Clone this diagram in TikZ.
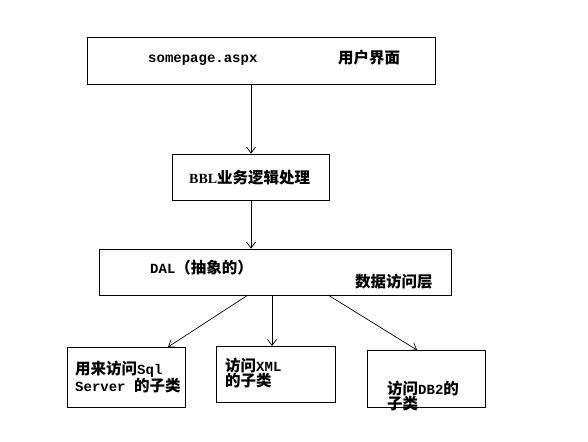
\documentclass[tikz,border=0pt]{standalone}
\usepackage{fontspec}
\setmainfont{Liberation Mono}
\newfontfamily\zhfont{Noto Sans CJK SC}
\newfontfamily\serfont{Liberation Serif}
\newcommand{\zh}[1]{{\zhfont\bfseries\fontsize{15.5}{16}\selectfont #1}}
\usetikzlibrary{arrows.meta}
\begin{document}
\begin{tikzpicture}[x=1pt,y=-1pt,
  box/.style={draw,line width=0.8pt,inner sep=0pt},
  lbl/.style={anchor=west,inner sep=0pt,font=\fontsize{14}{15}\selectfont\bfseries},
  arr/.style={line width=0.7pt,-{Straight Barb[length=6pt,width=9pt]}}]
\useasboundingbox (0,0) rectangle (588,441);
\fill[white] (0,0) rectangle (588,441);
% boxes
\node[box,minimum width=348pt,minimum height=47pt] (top) at (261,60.5) {};
\node[box,minimum width=157pt,minimum height=46pt] (bbl) at (251,177) {};
\node[box,minimum width=352pt,minimum height=46pt] (dal) at (275,272) {};
\node[box,minimum width=118pt,minimum height=60pt] (sql) at (126,377) {};
\node[box,minimum width=119pt,minimum height=56pt] (xml) at (275.5,374) {};
\node[box,minimum width=118pt,minimum height=57pt] (db2) at (426,378.5) {};
% labels
\node[lbl] (t1) at (148,60) {somepage.aspx};
\node[lbl] (t2) at (338,58) {\zh{用户界面}};
\node[lbl] (t3) at (189,178) {{\serfont BBL}\zh{业务逻辑处理}};
\node[lbl] (t4) at (150,268) {DAL\zh{（抽象的）}};
\node[lbl] (t5) at (355,282) {\zh{数据访问层}};
\node[lbl,align=left,font=\fontsize{14}{15}\selectfont\bfseries] (t6) at (75,377) {\zh{用来访问}Sql\\Server \zh{的子类}};
\node[lbl,align=left,font=\fontsize{14}{13}\selectfont\bfseries] (t7) at (225,373) {\zh{访问}XML\\\zh{的子类}};
\node[lbl,align=left,font=\fontsize{14}{12.5}\selectfont\bfseries] (t8) at (387,396) {\zh{访问}DB2\zh{的}\\\zh{子类}};
% connectors
\draw[arr] (bbl.north |- top.south) -- (bbl.north);
\draw[arr] (bbl.south) -- (bbl.south |- dal.north);
\coordinate (d1) at (248,295);
\coordinate (d2) at (272,295);
\coordinate (d3) at (328,295);
\coordinate (s1) at (168,347);
\coordinate (s2) at (272,346);
\coordinate (s3) at (417,350);
\draw[arr] (d1) -- (s1);
\draw[arr] (d2) -- (s2);
\draw[arr] (d3) -- (s3);
\end{tikzpicture}
\end{document}
